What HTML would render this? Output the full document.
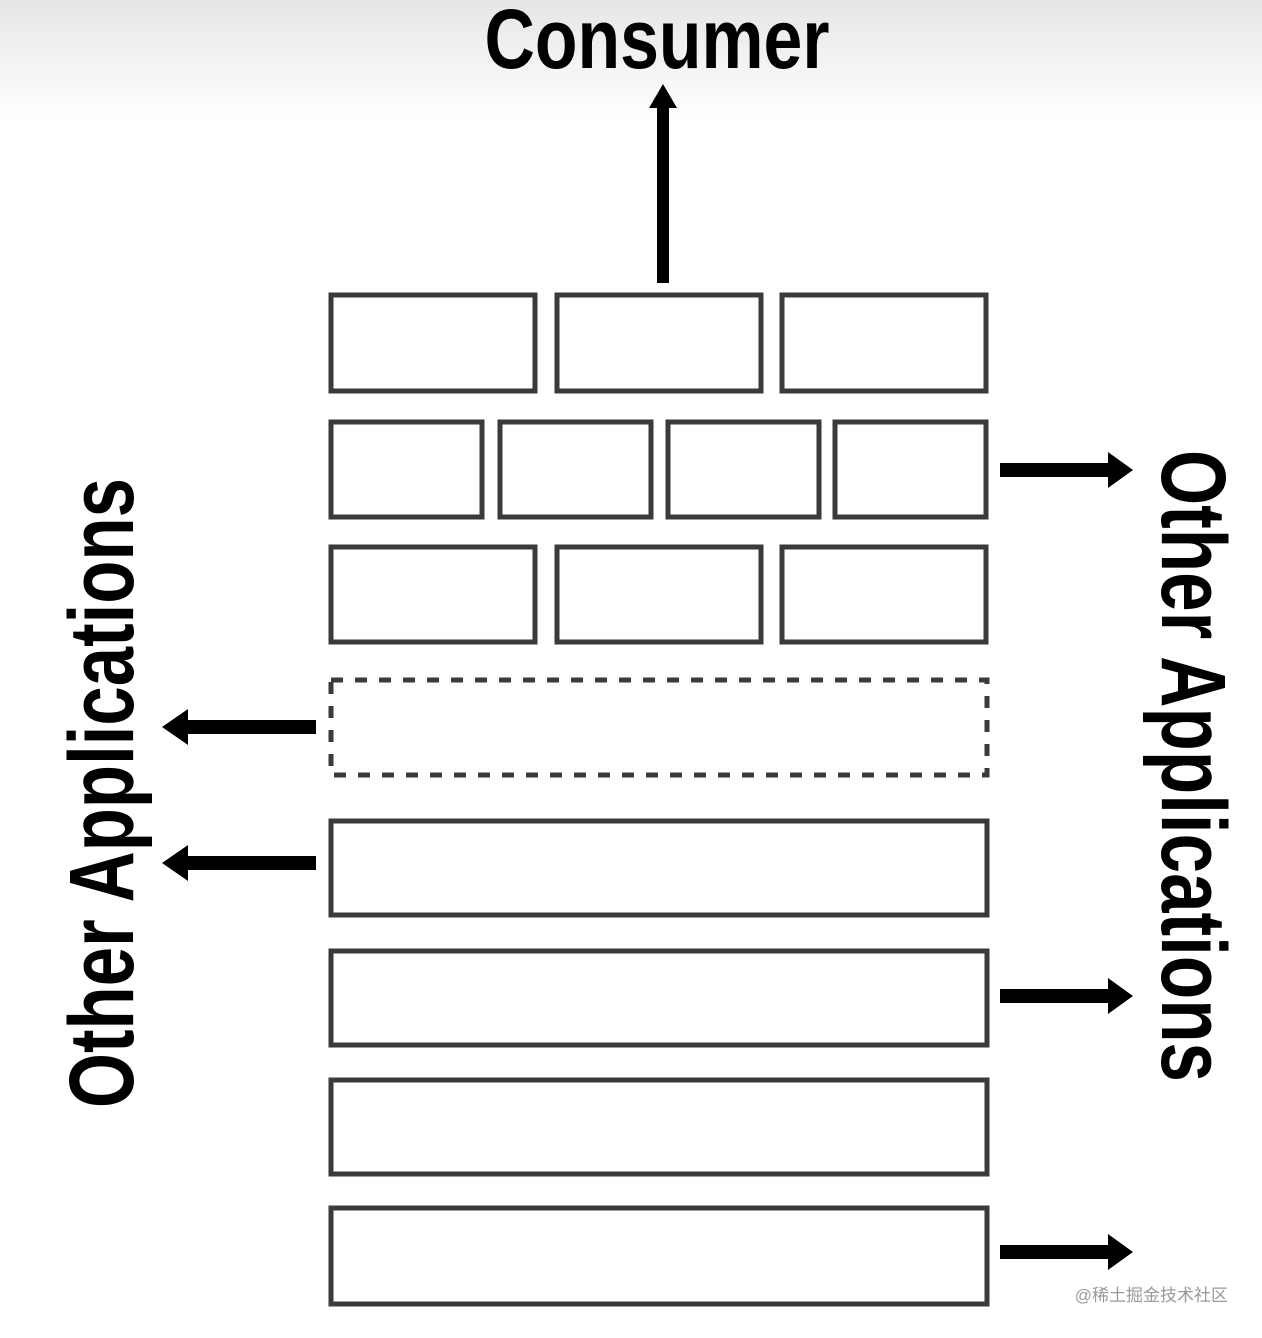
<!DOCTYPE html>
<html><head><meta charset="utf-8"><style>
html,body{margin:0;padding:0;background:#fff}
svg{display:block}
</style></head><body>
<svg width="1262" height="1338" viewBox="0 0 1262 1338" xmlns="http://www.w3.org/2000/svg">
<defs>
<linearGradient id="bg" x1="0" y1="0" x2="0" y2="1">
<stop offset="0" stop-color="#e6e6e6"/><stop offset="1" stop-color="#ffffff"/>
</linearGradient>
</defs>
<rect x="0" y="0" width="1262" height="120" fill="url(#bg)"/>
<text x="657" y="68" font-family="Liberation Sans, sans-serif" font-weight="bold" font-size="84" text-anchor="middle" textLength="345" lengthAdjust="spacingAndGlyphs" fill="#000">Consumer</text>
<g fill="none" stroke="#3a3a3a" stroke-width="5">
<rect x="331" y="295" width="204" height="96"/>
<rect x="557" y="295" width="204" height="96"/>
<rect x="782" y="295" width="204" height="96"/>
<rect x="331" y="422" width="151" height="95"/>
<rect x="500" y="422" width="151" height="95"/>
<rect x="668" y="422" width="151" height="95"/>
<rect x="835" y="422" width="151" height="95"/>
<rect x="331" y="547" width="204" height="95"/>
<rect x="557" y="547" width="204" height="95"/>
<rect x="782" y="547" width="204" height="95"/>
<rect x="331" y="680" width="656" height="95" stroke-dasharray="12,12"/>
<rect x="331" y="821" width="656" height="94"/>
<rect x="331" y="951" width="656" height="94"/>
<rect x="331" y="1080" width="656" height="94"/>
<rect x="331" y="1208" width="656" height="96"/>
</g>
<g fill="#000">
<rect x="657" y="105" width="12" height="178"/><polygon points="663,84 649,108 677,108"/>
<rect x="1000" y="463" width="110" height="14"/><polygon points="1133,470 1108,452 1108,488"/>
<rect x="1000" y="989" width="110" height="14"/><polygon points="1133,996 1108,978 1108,1014"/>
<rect x="1000" y="1245" width="110" height="14"/><polygon points="1133,1252 1108,1234 1108,1270"/>
<rect x="186" y="720" width="130" height="14"/><polygon points="162,727 188,709 188,745"/>
<rect x="186" y="856" width="130" height="14"/><polygon points="162,863 188,845 188,881"/>
</g>
<text transform="translate(133,793) rotate(-90)" font-family="Liberation Sans, sans-serif" font-weight="bold" font-size="92" text-anchor="middle" textLength="630" lengthAdjust="spacingAndGlyphs" fill="#000">Other Applications</text>
<text transform="translate(1162,766) rotate(90)" font-family="Liberation Sans, sans-serif" font-weight="bold" font-size="92" text-anchor="middle" textLength="632" lengthAdjust="spacingAndGlyphs" fill="#000">Other Applications</text>
<text x="1228" y="1301" font-family="Liberation Sans, 'Noto Sans CJK SC', sans-serif" font-size="17" text-anchor="end" fill="#999">@稀土掘金技术社区</text>
</svg>
</body></html>
